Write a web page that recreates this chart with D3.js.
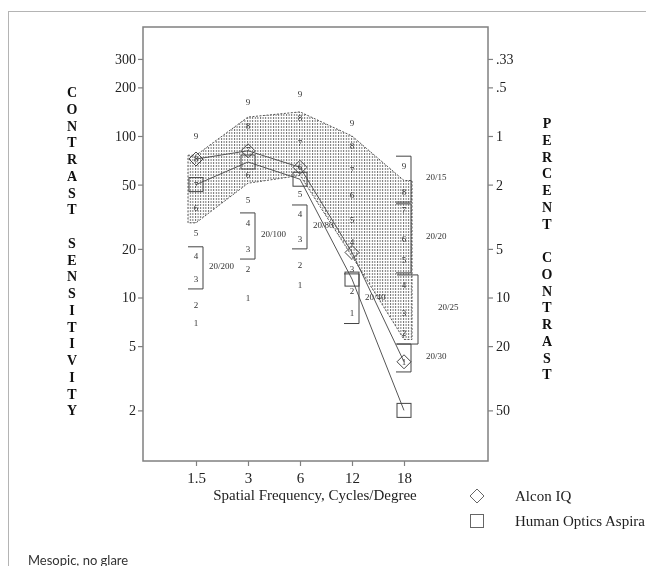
<!DOCTYPE html>
<html>
<head>
<meta charset="utf-8">
<title>Contrast sensitivity - mesopic, no glare</title>
<script src="https://d3js.org/d3.v7.min.js"></script>
<style>
    body{ margin:0; background:#fff; }
    svg{ display:block; filter:grayscale(100%); }
    .serif{ font-family:"Liberation Serif","Times New Roman",serif; }
</style>
</head>
<body>
<svg id="chart" width="646" height="566"></svg>
<script>
    /* data */
    var freqs = ["1.5", "3", "6", "12", "18"];

    // sensitivity of grating rows 1..9, one list per column
    var rows15 = [7, 9, 13, 18, 25, 36, 50, 72, 100];
    var rows3 = [10, 15, 20, 29, 40, 57, 82, 115, 163];
    var rows6 = [12, 16, 23, 33, 44, 64, 90, 129, 182];
    var rows12 = [8, 11, 15, 22, 30, 43, 62, 87, 120];
    var rows18 = [4, 6, 8, 12, 17, 23, 35, 45, 65];
    var rowValues = [rows15, rows3, rows6, rows12, rows18];

    // normal range band
    var bandTop = [76, 131, 141, 100, 53];
    var bandBottom = [29, 51, 57, 18, 5.5];

    // the two lenses
    var alconIQ = [72, 81, 64, 19, 4];
    var aspira = [50, 69, 54, 13, 2];

    // acuity brackets
    var acuityFreq = ["1.5", "3", "6", "12", "18", "18", "18", "18"];
    var acuityHi = [20.6, 33.4, 37.4, 14, 75, 38, 13.8, 5.15];
    var acuityLo = [11.3, 17.3, 20, 6.9, 39, 14.2, 5.15, 3.46];
    var acuityLabels = ["20/200", "20/100", "20/80", "20/40", "20/15", "20/20", "20/25", "20/30"];

    var csTicks = [2, 5, 10, 20, 50, 100, 200, 300];
    var percentLabels = ["50", "20", "10", "5", "2", "1", ".5", ".33"];

    var leftTitle = "CONTRAST SENSITIVITY";
    var rightTitle = "PERCENT CONTRAST";
    var legendNames = ["Alcon IQ", "Human Optics Aspira"];

    /* layout */
    var pLeft = 143, pRight = 488, pTop = 27, pBottom = 461;
    var svg = d3.select("#chart");

    var x = d3.scalePoint().domain(freqs).range([196, 404]);
    var y = d3.scaleLog().domain([0.972, 473]).range([pBottom, pTop]);

    // outer frame
    svg.append("rect")
        .attr("x", 8.5).attr("y", 11.5)
        .attr("width", 700).attr("height", 600)
        .attr("fill", "none").attr("stroke", "#b4b4b4");

    // hatch pattern
    var pat = svg.append("defs").append("pattern")
        .attr("id", "hatch")
        .attr("patternUnits", "userSpaceOnUse")
        .attr("width", 2.6).attr("height", 3);
    pat.append("rect").attr("width", 1).attr("height", 2).attr("fill", "#707070");

    // band polygon
    var bandPts = [];
    bandPts.push([x(freqs[0]) - 8, y(bandTop[0])]);
    for(var i=0; i<freqs.length; i++){
        bandPts.push([x(freqs[i]), y(bandTop[i])]);
    }
    bandPts.push([x(freqs[4]) + 8, y(bandTop[4])]);
    bandPts.push([x(freqs[4]) + 8, y(bandBottom[4])]);
    for(var i=freqs.length-1; i>=0; i--){
        bandPts.push([x(freqs[i]), y(bandBottom[i])]);
    }
    bandPts.push([x(freqs[0]) - 8, y(bandBottom[0])]);

    svg.append("path")
        .attr("d", d3.line()(bandPts) + "Z")
        .attr("fill", "url(#hatch)")
        .attr("stroke", "#555")
        .attr("stroke-width", 1)
        .attr("stroke-dasharray", "2,1.5");

    // plot box
    svg.append("rect")
        .attr("x", pLeft).attr("y", pTop)
        .attr("width", pRight-pLeft).attr("height", pBottom-pTop)
        .attr("fill", "none").attr("stroke", "#808080").attr("stroke-width", 1.5);

    // axes
    var yl = svg.append("g").attr("class", "serif")
        .attr("transform", "translate(" + pLeft + ",0)")
        .call(d3.axisLeft(y).tickValues(csTicks).tickSize(5).tickPadding(2).tickFormat(d3.format("d")));
    var yr = svg.append("g").attr("class", "serif")
        .attr("transform", "translate(" + pRight + ",0)")
        .call(d3.axisRight(y).tickValues(csTicks).tickSize(5).tickPadding(3)
            .tickFormat(function(d, i){ return percentLabels[i]; }));
    var xa = svg.append("g").attr("class", "serif")
        .attr("transform", "translate(0," + pBottom + ")")
        .call(d3.axisBottom(x).tickSize(5).tickPadding(6));

    [yl, yr, xa].forEach(function(g){
        g.select(".domain").remove();
        g.attr("font-family", null);
        g.selectAll("line").attr("stroke", "#808080").attr("stroke-width", 1.2);
        g.selectAll("text").attr("font-size", 14).attr("fill", "#222");
    });
    xa.selectAll("text").attr("font-size", 15);

    svg.append("text").attr("class", "serif")
        .attr("x", 315).attr("y", 500)
        .attr("text-anchor", "middle")
        .attr("font-size", 15).attr("fill", "#222")
        .text("Spatial Frequency, Cycles/Degree");

    // stacked letter titles
    function stacked(str, cx, cy0){
        var g = svg.append("g").attr("class", "serif");
        g.selectAll("text").data(str.split(""))
            .enter().append("text")
            .attr("x", cx)
            .attr("y", function(d, i){ return cy0 + i*16.75 + 5; })
            .attr("text-anchor", "middle")
            .attr("font-size", 14).attr("font-weight", "bold").attr("fill", "#111")
            .text(function(d){ return d; });
    }
    stacked(leftTitle, 72, 92);
    stacked(rightTitle, 547, 123);

    // acuity brackets
    for(var i=0; i<acuityLabels.length; i++){
        var cx = x(acuityFreq[i]);
        var wide = acuityLabels[i] === "20/25";
        var vx = cx + (wide ? 14 : 7);
        var hx = cx - (wide ? 7 : 8);
        var y1 = y(acuityHi[i]), y2 = y(acuityLo[i]);
        svg.append("path")
            .attr("d", "M" + hx + "," + y1 + "H" + vx + "V" + y2 + "H" + hx)
            .attr("fill", "none").attr("stroke", "#444").attr("stroke-width", 1);
        var off = acuityFreq[i] === "18" ? (wide ? 20 : 15) : 6;
        svg.append("text").attr("class", "serif")
            .attr("x", vx + off)
            .attr("y", (y1 + y2)/2 - 2)
            .attr("dominant-baseline", "central")
            .attr("font-size", 9).attr("fill", "#333")
            .text(acuityLabels[i]);
    }

    // lens lines
    var line = d3.line()
        .x(function(d, i){ return x(freqs[i]); })
        .y(function(d){ return y(d); });
    [alconIQ, aspira].forEach(function(s){
        svg.append("path").attr("d", line(s))
            .attr("fill", "none").attr("stroke", "#555").attr("stroke-width", 1);
    });

    // row numbers
    rowValues.forEach(function(col, i){
        svg.append("g").attr("class", "serif").selectAll("text").data(col)
            .enter().append("text")
            .attr("x", x(freqs[i]))
            .attr("y", function(d){ return y(d); })
            .attr("text-anchor", "middle")
            .attr("dominant-baseline", "central")
            .attr("font-size", 9).attr("fill", "#333")
            .text(function(d, j){ return j+1; });
    });

    // markers
    function diamond(cx, cy, r){
        return "M" + cx + "," + (cy-r) + "L" + (cx+r) + "," + cy + "L" + cx + "," + (cy+r) + "L" + (cx-r) + "," + cy + "Z";
    }
    svg.append("g").selectAll("path").data(alconIQ)
        .enter().append("path")
        .attr("d", function(d, i){ return diamond(x(freqs[i]), y(d), 7); })
        .attr("fill", "none").attr("stroke", "#444").attr("stroke-width", 1);
    svg.append("g").selectAll("rect").data(aspira)
        .enter().append("rect")
        .attr("x", function(d, i){ return x(freqs[i]) - 7; })
        .attr("y", function(d){ return y(d) - 7; })
        .attr("width", 14).attr("height", 14)
        .attr("fill", "none").attr("stroke", "#444").attr("stroke-width", 1);

    // legend
    svg.append("path").attr("d", diamond(477, 496, 7))
        .attr("fill", "none").attr("stroke", "#666");
    svg.append("rect").attr("x", 470.5).attr("y", 514.5).attr("width", 13).attr("height", 13)
        .attr("fill", "none").attr("stroke", "#666");
    legendNames.forEach(function(n, i){
        svg.append("text").attr("class", "serif")
            .attr("x", 515).attr("y", 501 + i*25)
            .attr("font-size", 15).attr("fill", "#222")
            .text(n);
    });

    svg.append("text")
        .attr("x", 28).attr("y", 565)
        .attr("font-family", "Lato, 'Open Sans', sans-serif")
        .attr("font-size", 13).attr("fill", "#333")
        .text("Mesopic, no glare");
</script>
</body>
</html>
